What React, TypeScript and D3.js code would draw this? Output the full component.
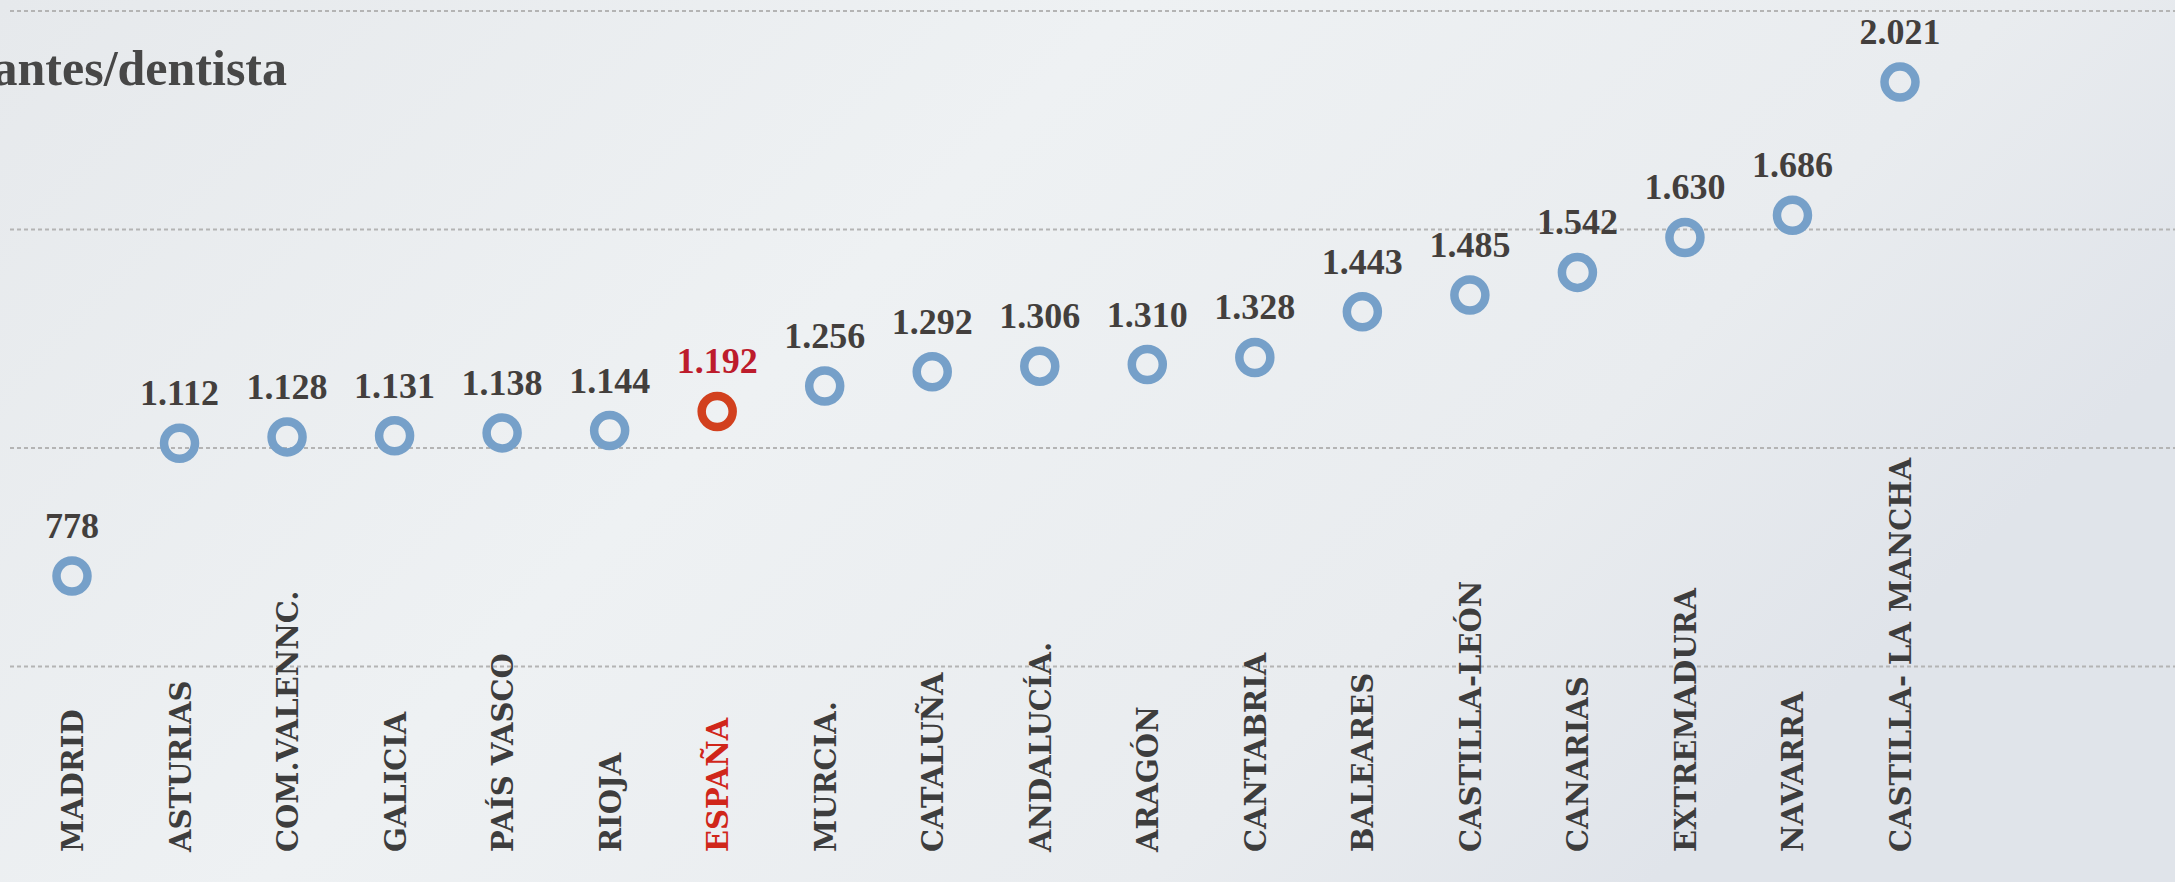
import React from "react";
import * as d3 from "d3";

const regions = [
  "MADRID", "ASTURIAS", "COM.VALENNC.", "GALICIA", "PAÍS VASCO", "RIOJA",
  "ESPAÑA", "MURCIA.", "CATALUÑA", "ANDALUCÍA.", "ARAGÓN", "CANTABRIA",
  "BALEARES", "CASTILLA-LEÓN", "CANARIAS", "EXTREMADURA", "NAVARRA",
  "CASTILLA- LA MANCHA"
];

const habPorDentista = [
  778, 1112, 1128, 1131, 1138, 1144, 1192, 1256, 1292, 1306, 1310, 1328,
  1443, 1485, 1542, 1630, 1686, 2021
];

const gridValues = [550, 1100, 1650, 2200];

const highlight = "ESPAÑA";

const W = 2175;
const H = 882;

// miles con punto, como en el original
const fmt = (v: number) =>
  v >= 1000 ? `${Math.floor(v / 1000)}.${String(v % 1000).padStart(3, "0")}` : `${v}`;

export default function App() {
  const x = d3.scalePoint<string>().domain(regions).range([72, 1900]);
  const y = d3.scaleLinear().domain([0, 2200]).range([885, 11]);

  const points = regions.map((r, i) => ({ region: r, value: habPorDentista[i] }));

  return (
    <svg
      width={W}
      height={H}
      style={{ position: "fixed", top: 0, left: 0, display: "block" }}
    >
      <defs>
        <linearGradient id="bg" x1="0" y1="0" x2="1" y2="0.4">
          <stop offset="0" stopColor="#e6e9ec" />
          <stop offset="0.45" stopColor="#eef1f3" />
          <stop offset="0.8" stopColor="#e9ecef" />
          <stop offset="1" stopColor="#e0e4ea" />
        </linearGradient>
      </defs>
      <rect width={W} height={H} fill="url(#bg)" />

      {/* líneas de guía */}
      {gridValues.map((g) => (
        <line
          key={g}
          x1={10}
          x2={W}
          y1={y(g)}
          y2={y(g)}
          stroke="#b4b4b4"
          strokeWidth={2}
          strokeDasharray="4 3"
        />
      ))}

      {/* el título queda cortado por la izquierda, como en la imagen */}
      <text
        x={287}
        y={85}
        textAnchor="end"
        fontFamily="'Liberation Serif', serif"
        fontWeight="bold"
        fontSize={50}
        fill="#474747"
      >
        Habitantes/dentista
      </text>

      {points.map((d) => {
        const cx = x(d.region) as number;
        const cy = y(d.value);
        const isEs = d.region === highlight;
        return (
          <g key={d.region}>
            <circle
              cx={cx}
              cy={cy}
              r={15.5}
              fill="none"
              stroke={isEs ? "#d2401e" : "#76a0c9"}
              strokeWidth={8.5}
            />
            <text
              x={cx}
              y={cy - 38}
              textAnchor="middle"
              fontFamily="'Liberation Serif', serif"
              fontWeight="bold"
              fontSize={36}
              fill={isEs ? "#bd1c2c" : "#433f3d"}
            >
              {fmt(d.value)}
            </text>
            <text
              transform={`translate(${cx + 11},${852}) rotate(-90)`}
              fontFamily="'DejaVu Serif', serif"
              fontWeight="bold"
              fontSize={29}
              fill={isEs ? "#d0261a" : "#3d3d3d"}
            >
              {d.region}
            </text>
          </g>
        );
      })}
    </svg>
  );
}
